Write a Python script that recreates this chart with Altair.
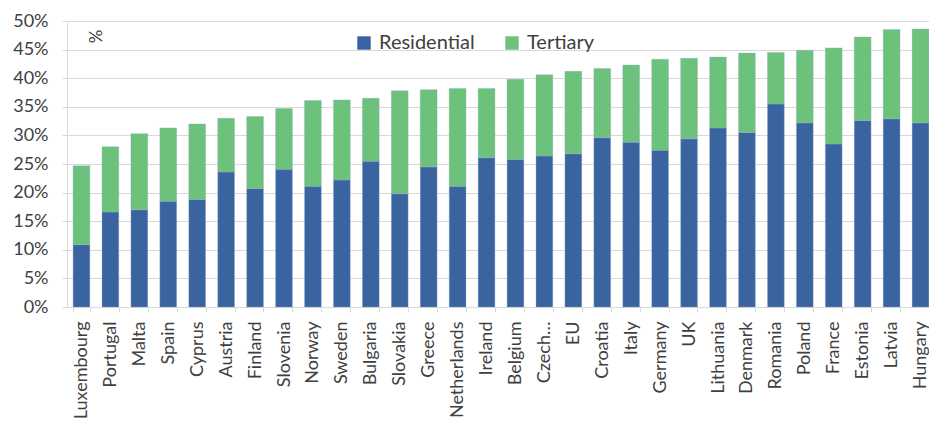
import altair as alt
import pandas as pd

countries = ["Luxembourg", "Portugal", "Malta", "Spain", "Cyprus", "Austria", "Finland",
             "Slovenia", "Norway", "Sweden", "Bulgaria", "Slovakia", "Greece", "Netherlands",
             "Ireland", "Belgium", "Czech…", "EU", "Croatia", "Italy", "Germany", "UK",
             "Lithuania", "Denmark", "Romania", "Poland", "France", "Estonia", "Latvia", "Hungary"]
residential = [10.9, 16.6, 17.0, 18.5, 18.8, 23.6, 20.7, 24.1, 21.1, 22.2, 25.5, 19.8, 24.5, 21.1,
               26.1, 25.8, 26.4, 26.8, 29.6, 28.8, 27.4, 29.4, 31.3, 30.5, 35.5, 32.2, 28.5, 32.6,
               32.9, 32.2]
tertiary = [13.8, 11.4, 13.3, 12.8, 13.2, 9.4, 12.6, 10.6, 15.0, 14.0, 11.0, 18.0, 13.5, 17.1,
            12.1, 14.0, 14.2, 14.4, 12.1, 13.5, 15.9, 14.1, 12.4, 13.9, 9.0, 12.7, 16.8, 14.6,
            15.6, 16.4]
series = ["Residential", "Tertiary"]
colors = ["#3A64A0", "#6CC27A"]
y_ticks = [0, 5, 10, 15, 20, 25, 30, 35, 40, 45, 50]

rows = []
for i, c in enumerate(countries):
    rows.append({"country": c, "sector": series[0], "value": residential[i], "order": 0})
    rows.append({"country": c, "sector": series[1], "value": tertiary[i], "order": 1})
df = pd.DataFrame(rows)

FONT = "Lato"
TEXT = "#404040"
GRID = "#D9D9D9"

bars = alt.Chart(df).mark_bar(stroke="#8FA8CC", strokeWidth=0.6, strokeOpacity=0.6).encode(
    x=alt.X("country:N", sort=countries, title=None,
            scale=alt.Scale(paddingInner=0.42, paddingOuter=0.21, range=[0, 868]),
            axis=alt.Axis(labelAngle=-90, labelFont=FONT, labelFontSize=18, labelColor=TEXT,
                          tickBand="extent", tickSize=5, tickColor=GRID, domainColor=GRID,
                          labelPadding=9, labelLimit=200)),
    y=alt.Y("value:Q", stack="zero", title=None,
            scale=alt.Scale(domain=[0, 50], nice=False),
            axis=alt.Axis(values=y_ticks, labelExpr="datum.value + '%'", labelFont=FONT,
                          labelFontSize=18, labelColor=TEXT, tickSize=5, tickColor=GRID,
                          domainColor=GRID, gridColor=GRID, labelPadding=14)),
    color=alt.Color("sector:N", sort=series,
                    scale=alt.Scale(domain=series, range=colors),
                    legend=alt.Legend(title=None, orient="none", direction="horizontal",
                                      legendX=287, legendY=12, symbolType="square",
                                      symbolSize=180, symbolStrokeWidth=0,
                                      labelFont=FONT, labelFontSize=20, labelColor=TEXT,
                                      labelOffset=5, columnPadding=27)),
    order=alt.Order("order:Q"),
)

pct = alt.Chart(pd.DataFrame({"t": ["%"]})).mark_text(
    font=FONT, fontSize=17, color=TEXT, angle=270
).encode(x=alt.value(29.5), y=alt.value(15.5), text="t:N")

chart = alt.layer(bars, pct).properties(
    width=862, height=286,
    autosize=alt.AutoSizeParams(type="none"),
    padding={"left": 59, "top": 13, "right": 0, "bottom": 115},
).configure_view(stroke=None).configure_axis(grid=True).configure_axisX(grid=False)

chart.save("out.html", embed_options={"renderer": "svg", "actions": False})
